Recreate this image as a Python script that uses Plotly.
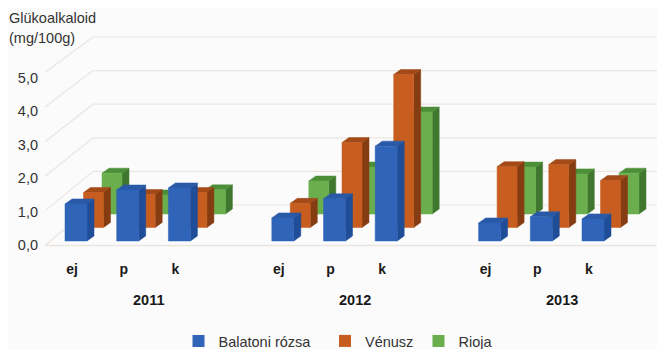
import plotly.graph_objects as go

# ---- data ----
series_names = ["Balatoni rózsa", "Vénusz", "Rioja"]
positions = [0, 1, 2, 4, 5, 6, 8, 9, 10]
point_labels = ["ej", "p", "k", "ej", "p", "k", "ej", "p", "k"]
years = ["2011", "2012", "2013"]
balatoni = [1.09, 1.50, 1.56, 0.68, 1.24, 2.79, 0.53, 0.71, 0.65]
venusz = [1.03, 0.97, 1.03, 0.71, 2.50, 4.50, 1.79, 1.85, 1.38]
rioja = [1.20, 0.56, 0.71, 0.97, 1.38, 3.00, 1.38, 1.18, 1.20]
value_ticks = [0, 1, 2, 3, 4, 5]
value_labels = ["0,0", "1,0", "2,0", "3,0", "4,0", "5,0"]

# ---- layout constants (window pixels; the page body has an 8px margin) ----
W, H = 665, 349
OFF = 8
L, B_PX = 41, H + OFF
X0, XS = 65.0, 51.7      # pixel of category 0, pixels per category
Y0, YS = 241.0, 34.0     # pixel of value 0 (front row), pixels per value unit
def cx(px): return (px - X0) / XS
def vy(py): return (Y0 - py) / YS
def paper_x(px): return (px - L) / (W - L)
def paper_y(py): return (B_PX - py) / (B_PX - OFF)

styles = [
    dict(name=series_names[2], vals=rioja, dx=37.0, dy=27.0, w=20.0, front="#6bae4e", side="#40772f", top="#4d8f38"),
    dict(name=series_names[1], vals=venusz, dx=18.5, dy=13.5, w=20.0, front="#c75d1f", side="#863c12", top="#a34a18"),
    dict(name=series_names[0], vals=balatoni, dx=0.0, dy=0.0, w=22.0, front="#2f64b8", side="#1f4d98", top="#2a59a8"),
]
DEP_X, DEP_Y = 7.0, 5.0

fig = go.Figure()

# grid: floor-to-back wall lines
grid_color = "#ebe5e1"
for v in value_ticks:
    fy, by = 245.5 - 34.6 * v, 205.0 - 33.6 * v
    fig.add_trace(go.Scatter(
        x=[cx(45), cx(93), cx(665)], y=[vy(fy), vy(by), vy(by)],
        mode="lines", line=dict(color=grid_color, width=1.2),
        hoverinfo="skip", showlegend=False))
fig.add_trace(go.Scatter(
    x=[cx(45), cx(665)], y=[vy(245.5), vy(245.5)], mode="lines",
    line=dict(color=grid_color, width=1.4), hoverinfo="skip", showlegend=False))

# bars
for s in styles:
    fx, fy, sx, sy, tx, ty = [], [], [], [], [], []
    for p, val in zip(positions, s["vals"]):
        x1 = p + s["dx"] / XS
        x2 = x1 + s["w"] / XS
        b = s["dy"] / YS
        t = b + val
        ddx, ddy = DEP_X / XS, DEP_Y / YS
        fx += [x1, x2, x2, x1, x1, None]
        fy += [b, b, t, t, b, None]
        sx += [x2, x2 + ddx, x2 + ddx, x2, x2, None]
        sy += [b, b + ddy, t + ddy, t, b, None]
        tx += [x1, x2, x2 + ddx, x1 + ddx, x1, None]
        ty += [t, t, t + ddy, t + ddy, t, None]
    for xs, ys, col in ((sx, sy, s["side"]), (tx, ty, s["top"]), (fx, fy, s["front"])):
        fig.add_trace(go.Scatter(
            x=xs, y=ys, mode="lines", fill="toself", fillcolor=col,
            line=dict(color=col, width=0.5), hoverinfo="skip", showlegend=False))

# legends (inside the full-height plot area)
legend_pos = {"Balatoni rózsa": 178.5, "Vénusz": 325, "Rioja": 418.5}
for i, s in enumerate(reversed(styles)):
    key = "legend" if i == 0 else f"legend{i + 1}"
    fig.add_trace(go.Scatter(
        x=[None], y=[None], mode="markers", name=s["name"],
        marker=dict(symbol="square", size=12, color=s["front"]),
        legend=key, showlegend=True))
    fig.update_layout({key: dict(
        x=paper_x(legend_pos[s["name"]]), y=paper_y(341),
        xanchor="left", yanchor="middle",
        bgcolor="rgba(0,0,0,0)", font=dict(family="Liberation Sans", size=14.5, color="#333333"),
        itemwidth=30)})

ann = [
    dict(text="Glükoalkaloid", x=paper_x(7), y=paper_y(18)),
    dict(text="(mg/100g)", x=paper_x(7), y=paper_y(38)),
]
annotations = [dict(a, xref="paper", yref="paper", xanchor="left", yanchor="middle", showarrow=False,
                    font=dict(family="Liberation Sans", size=14.5, color="#333333")) for a in ann]
for yr, px in zip(years, [148, 355, 562]):
    annotations.append(dict(text=f"<b>{yr}</b>", x=cx(px), y=paper_y(300), xref="x", yref="paper",
                            xanchor="center", yanchor="middle", showarrow=False,
                            font=dict(family="Liberation Sans", size=14.5, color="#1a1a1a")))

fig.update_layout(
    width=W - OFF, height=H, autosize=False,
    margin=dict(l=L - OFF, r=0, t=0, b=0),
    paper_bgcolor="#fbfbfb", plot_bgcolor="rgba(0,0,0,0)",
    annotations=annotations,
    xaxis=dict(range=[cx(L), cx(W)], showgrid=False, zeroline=False, showline=False, ticks="",
               anchor="free", position=paper_y(259),
               tickmode="array", tickvals=[p + 7.0 / XS for p in positions],
               ticktext=[f"<b>{t}</b>" for t in point_labels],
               tickfont=dict(family="Liberation Sans", size=14, color="#1a1a1a")),
    yaxis=dict(range=[vy(B_PX), vy(OFF)], showgrid=False, zeroline=False, showline=False, ticks="",
               tickmode="array", tickvals=[vy(245 - 33.4 * v) for v in value_ticks],
               ticktext=value_labels, ticklabelstandoff=2,
               tickfont=dict(family="Liberation Sans", size=14.5, color="#333333")),
)
fig.write_html("out.html", config=dict(displayModeBar=False))
